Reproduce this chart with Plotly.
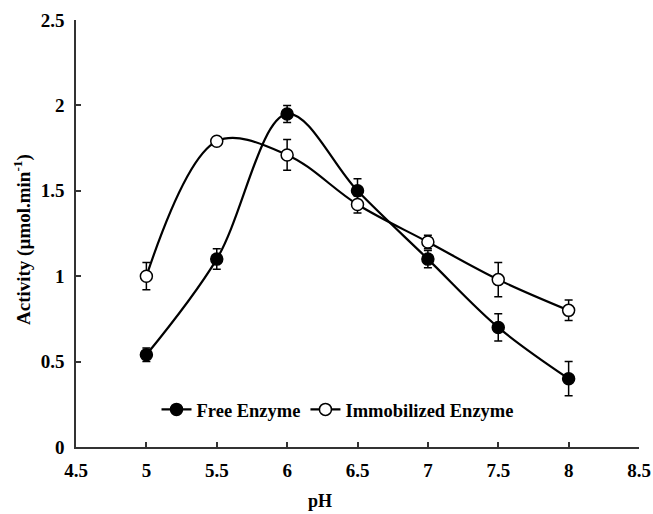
import plotly.graph_objects as go

ph = [5, 5.5, 6, 6.5, 7, 7.5, 8]
free_act = [0.54, 1.10, 1.95, 1.50, 1.10, 0.70, 0.40]
free_err = [0.04, 0.06, 0.05, 0.07, 0.05, 0.08, 0.10]
imm_act = [1.00, 1.79, 1.71, 1.42, 1.20, 0.98, 0.80]
imm_err = [0.08, 0.01, 0.09, 0.05, 0.04, 0.10, 0.06]

x_ticks = [4.5, 5, 5.5, 6, 6.5, 7, 7.5, 8, 8.5]
y_ticks = [0, 0.5, 1, 1.5, 2, 2.5]

font = "Liberation Serif"

fig = go.Figure()
fig.add_trace(go.Scatter(
    x=ph, y=free_act, name="Free Enzyme", mode="lines+markers",
    line=dict(color="black", width=2.2, shape="spline", smoothing=1.0),
    marker=dict(size=12, color="black", line=dict(color="black", width=1.5)),
    error_y=dict(type="data", array=free_err, color="black", thickness=1.5, width=4),
))
fig.add_trace(go.Scatter(
    x=ph, y=imm_act, name="Immobilized Enzyme", mode="lines+markers",
    line=dict(color="black", width=2.2, shape="spline", smoothing=1.0),
    marker=dict(size=12, color="white", line=dict(color="black", width=1.5)),
    error_y=dict(type="data", array=imm_err, color="black", thickness=1.5, width=4),
))

axis_common = dict(showline=True, linecolor="#333", linewidth=1.5, ticks="inside", ticklen=5,
                   tickcolor="#333", tickwidth=1.5, showgrid=False, zeroline=False, automargin=False,
                   tickfont=dict(family=font, size=19, weight="bold", color="black"))

fig.update_layout(
    width=653, height=514,
    margin=dict(l=76, r=14, t=20, b=67),
    paper_bgcolor="white", plot_bgcolor="white",
    font=dict(family=font, size=18, color="black"),
    showlegend=True,
    legend=dict(orientation="h", x=0.143, y=0.087, xanchor="left", yanchor="middle",
                bgcolor="rgba(0,0,0,0)", font=dict(family=font, size=18.5, color="black", weight="bold"),
                itemwidth=30, tracegroupgap=0),
    xaxis=dict(range=[4.5, 8.5], tickvals=x_ticks, ticktext=[f"{v:g}" for v in x_ticks],
               ticklabelstandoff=5, **axis_common),
    yaxis=dict(range=[0, 2.5], tickvals=y_ticks, ticktext=[f"{v:g}" for v in y_ticks],
               ticklabelstandoff=6, **axis_common),
    annotations=[
        dict(text="pH", xref="paper", yref="paper", x=(320 - 76) / 563, y=(447 - 501) / 427,
             xanchor="center", yanchor="middle", showarrow=False,
             font=dict(family=font, size=18, weight="bold", color="black")),
        dict(text="Activity (µmol.min<sup>-1</sup>)", xref="paper", yref="paper",
             x=(22 - 76) / 563, y=(447 - 240) / 427, textangle=-90,
             xanchor="center", yanchor="middle", showarrow=False,
             font=dict(family=font, size=19, weight="bold", color="black")),
    ],
)

fig.write_html("out.html")
